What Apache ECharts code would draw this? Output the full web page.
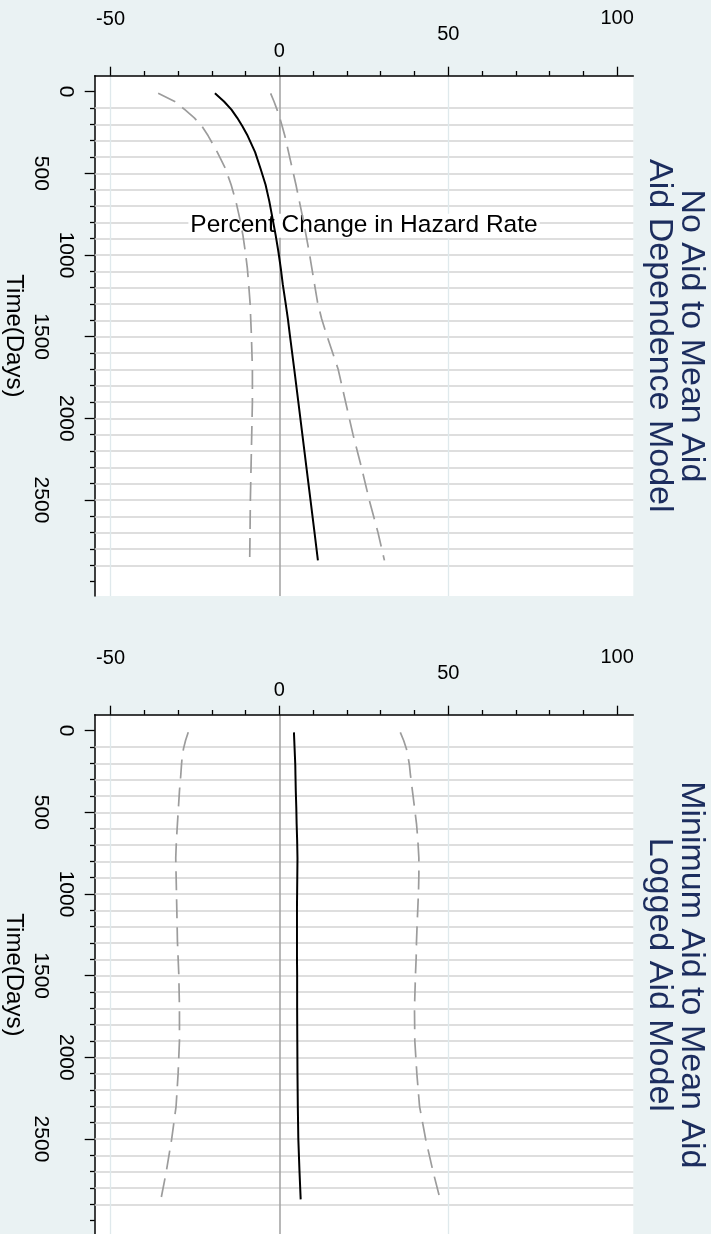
<!DOCTYPE html>
<html>
<head>
<meta charset="utf-8">
<script src="https://cdn.jsdelivr.net/npm/echarts@6/dist/echarts.min.js"></script>
<style>
  html, body { margin: 0; padding: 0; background: #eaf2f3; }
  #main { width: 711px; height: 1234px; }
</style>
</head>
<body>
<div id="main"></div>
<script>
// time points (days) the effect curves are drawn at
const days = [10, 60, 110, 160, 210, 270, 370, 470, 570, 670, 780, 880, 980, 1080, 1180, 1290, 1390, 1490, 1700, 1900, 2100, 2300, 2500, 2700, 2870];

// No Aid to Mean Aid / Aid Dependence Model (percent change in hazard)
const depEstimate = [-19.1, -16.4, -14.2, -12.5, -11.0, -9.4, -7.2, -5.6, -4.1, -3.0, -2.0, -1.1, -0.3, 0.4, 1.0, 1.8, 2.5, 3.1, 4.4, 5.6, 6.8, 8.0, 9.2, 10.4, 11.4];
const depLower = [-35.9, -31.0, -28.0, -25.2, -23.0, -21.1, -18.4, -16.0, -14.3, -12.9, -11.7, -10.8, -10.1, -9.5, -9.1, -8.7, -8.5, -8.3, -8.0, -8.0, -8.2, -8.4, -8.6, -8.7, -8.8];
const depUpper = [-2.6, -1.6, -0.7, 0.1, 0.8, 1.6, 2.7, 3.8, 4.9, 5.9, 7.0, 7.9, 8.8, 9.6, 10.4, 11.3, 12.5, 14.0, 17.4, 19.6, 21.8, 24.3, 26.6, 29.2, 31.1];

// Minimum Aid to Mean Aid / Logged Aid Model
const logEstimate = [4.3, 4.4, 4.5, 4.6, 4.7, 4.75, 4.85, 5.0, 5.1, 5.25, 5.35, 5.3, 5.25, 5.2, 5.2, 5.2, 5.2, 5.25, 5.25, 5.3, 5.35, 5.45, 5.6, 5.95, 6.3];
const logLower = [-27.0, -27.8, -28.4, -28.8, -29.0, -29.2, -29.6, -29.9, -30.2, -30.5, -30.7, -30.6, -30.5, -30.4, -30.3, -30.2, -30.0, -29.8, -29.6, -29.6, -30.0, -30.6, -31.9, -33.5, -35.1];
const logUpper = [35.8, 36.8, 37.6, 38.1, 38.5, 38.8, 39.4, 40.0, 40.6, 41.0, 41.3, 41.3, 41.2, 41.0, 40.8, 40.6, 40.5, 40.3, 40.0, 40.1, 40.7, 41.5, 43.3, 45.5, 47.6];

// ticks and reference lines
const pctTicks = [-50, 0, 50, 100];
const pctMinorTicks = [-40, -30, -20, -10, 10, 20, 30, 40, 60, 70, 80, 90];
const pctGridLines = [-50, 50];
const dayTicks = [0, 500, 1000, 1500, 2000, 2500];
const dayInnerLabels = [0, 1000, 2000];
const dayOuterLabels = [500, 1500, 2500];
const dayMinorTicks = [100, 200, 300, 400, 600, 700, 800, 900, 1100, 1200, 1300, 1400, 1600, 1700, 1800, 1900, 2100, 2200, 2300, 2400, 2600, 2700, 2800, 2900, 3000];
const dayGridLines = [100, 200, 300, 400, 500, 600, 700, 800, 900, 1000, 1100, 1200, 1300, 1400, 1500, 1600, 1700, 1800, 1900, 2000, 2100, 2200, 2300, 2400, 2500, 2600, 2700, 2800, 2900];

const panelTitles = [
  ['No Aid to Mean Aid', 'Aid Dependence Model'],
  ['Minimum Aid to Mean Aid', 'Logged Aid Model']
];

const font = 'Liberation Sans';
const gridTops = [75.7, 714.7];
const plotLeft = 94.7;
const plotH = 520.3;
const dayMin = -98, dayMax = 3088;

// staggered percent labels, like the stata output
const pctStyleOf = { '-50': 'p2', '0': 'p0', '50': 'p1', '100': 'p3' };
const pctRich = {
  p0: { fontFamily: font, fontSize: 20, color: '#000', padding: [0, 0, 0, 0] },
  p1: { fontFamily: font, fontSize: 20, color: '#000', padding: [0, 0, 17, 0] },
  p2: { fontFamily: font, fontSize: 20, color: '#000', padding: [0, 0, 32, 0] },
  p3: { fontFamily: font, fontSize: 20, color: '#000', padding: [0, 0, 33, 0] }
};
const tickLine = { color: '#000', width: 1.3 };

const xAxes = [], yAxes = [], grids = [], series = [], graphics = [];

function addPanel(g, lower, est, upper, xName) {
  grids.push({ left: plotLeft, top: gridTops[g], width: 538.6, height: plotH, show: true,
    backgroundColor: '#fff', borderWidth: 0, containLabel: false, outerBoundsMode: 'none' });

  xAxes.push({
    gridIndex: g, type: 'value', position: 'top', min: -54.7, max: 104.8, z: 2,
    name: xName, nameLocation: 'middle', nameGap: -162,
    nameTextStyle: { fontFamily: font, fontSize: 24.5, color: '#000',
      backgroundColor: '#fff', lineHeight: 24, padding: [0, 2, 0, 2] },
    axisLine: { show: true, onZero: false, lineStyle: { color: '#000', width: 1.5 } },
    axisTick: { show: true, customValues: pctTicks, length: 9, lineStyle: tickLine },
    axisLabel: { show: true, customValues: pctTicks, margin: 14,
      formatter: v => '{' + pctStyleOf[v] + '|' + v + '}', rich: pctRich },
    splitLine: { show: false }
  }, {
    gridIndex: g, type: 'value', position: 'top', min: -54.7, max: 104.8,
    axisLine: { show: false, onZero: false },
    axisTick: { show: true, customValues: pctMinorTicks, length: 4.7, lineStyle: tickLine },
    axisLabel: { show: false }, splitLine: { show: false }
  });

  yAxes.push({
    gridIndex: g, type: 'value', position: 'left', inverse: true, min: dayMin, max: dayMax,
    name: 'Time(Days)', nameLocation: 'middle', nameGap: 69, nameRotate: -90,
    nameTextStyle: { fontFamily: font, fontSize: 24, color: '#000' },
    axisLine: { show: true, onZero: false, lineStyle: { color: '#000', width: 1.5 } },
    axisTick: { show: true, customValues: dayTicks, length: 10, lineStyle: tickLine },
    axisLabel: { show: false },
    splitLine: { show: false }
  }, {
    gridIndex: g, type: 'value', position: 'left', inverse: true, min: dayMin, max: dayMax,
    axisLine: { show: false, onZero: false },
    axisTick: { show: true, customValues: dayMinorTicks, length: 4.7, lineStyle: tickLine },
    axisLabel: { show: false },
    splitLine: { show: false }
  });

  const xi = 2 * g, yi = 2 * g;
  // reference lines, kept under the curves
  series.push({
    type: 'line', xAxisIndex: xi, yAxisIndex: yi, data: [], z: 1, silent: true,
    markLine: {
      z: 1, silent: true, symbol: ['none', 'none'], animation: false,
      label: { show: false },
      lineStyle: { type: 'solid' },
      data: [].concat(
        dayGridLines.map(d => ({ yAxis: d, lineStyle: { color: '#d3d3d3', width: 1.7, type: 'solid' } })),
        pctGridLines.map(v => ({ xAxis: v, lineStyle: { color: '#dfe9ec', width: 1.3, type: 'solid' } })),
        [{ xAxis: 0, lineStyle: { color: '#a6a6a6', width: 1.6, type: 'solid' } }]
      )
    }
  });
  const dashed = { color: '#9c9c9c', width: 1.7, type: [19, 9] };
  [[lower, dashed], [upper, dashed], [est, { color: '#000', width: 2, type: 'solid' }]].forEach(([vals, ls]) => {
    series.push({
      type: 'line', xAxisIndex: xi, yAxisIndex: yi, z: 3, silent: true,
      showSymbol: false, symbol: 'none', smooth: false,
      lineStyle: ls,
      data: days.map((d, i) => [vals[i], d])
    });
  });

  // panel title, rotated like the rest of the graph
  const cy = gridTops[g] + plotH / 2;
  [[panelTitles[g][0], 691], [panelTitles[g][1], 659]].forEach(([t, x]) => {
    graphics.push({ type: 'text', x: x, y: cy, rotation: -Math.PI / 2, silent: true,
      style: { text: t, fill: '#1c2d5e', fontFamily: font, fontSize: 34, align: 'center', verticalAlign: 'middle' } });
  });
}

addPanel(0, depLower, depEstimate, depUpper, 'Percent Change in Hazard Rate');
addPanel(1, logLower, logEstimate, logUpper, '');

const myChart = echarts.init(document.getElementById('main'), null, { renderer: 'canvas' });
myChart.setOption({
  animation: false,
  backgroundColor: '#eaf2f3',
  grid: grids,
  xAxis: xAxes,
  yAxis: yAxes,
  series: series,
  graphic: graphics
});

// day labels in two alternating rows, placed through the axis scale
const dayLabels = [];
[0, 1].forEach(g => {
  dayTicks.forEach(v => {
    const inner = dayInnerLabels.indexOf(v) >= 0;
    const y = myChart.convertToPixel({ yAxisIndex: 2 * g }, v);
    dayLabels.push({
      type: 'group', x: inner ? plotLeft - 28.5 : plotLeft - 53.5, y: y, silent: true,
      children: [{ type: 'text', rotation: -Math.PI / 2, silent: true,
        style: { text: String(v), fill: '#000', fontFamily: font, fontSize: 21,
          align: 'center', verticalAlign: 'middle' } }]
    });
  });
});
myChart.setOption({ graphic: { elements: graphics.concat(dayLabels) } });
</script>
</body>
</html>
